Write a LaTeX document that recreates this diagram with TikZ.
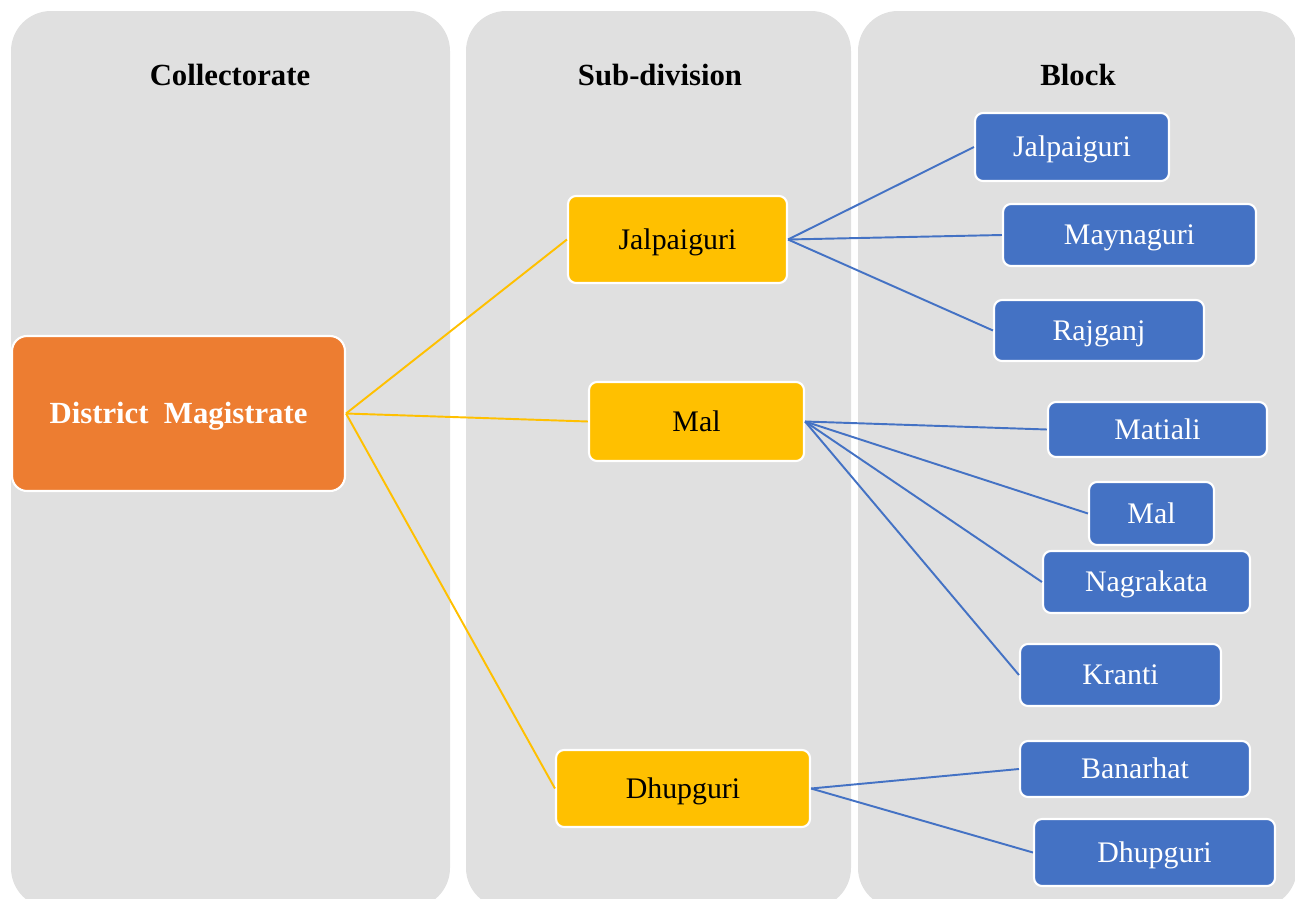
\documentclass[tikz,border=0pt]{standalone}
\usepackage{fontspec}
\setmainfont{Liberation Serif}
\definecolor{panelgray}{HTML}{E0E0E0}
\definecolor{dmorange}{HTML}{ED7D31}
\definecolor{subyellow}{HTML}{FFC000}
\definecolor{blockblue}{HTML}{4472C4}
\begin{document}
\begin{tikzpicture}[x=0.02cm,y=-0.02cm,
  box/.style={draw=white,line width=1.2pt,rounded corners=0.16cm,inner sep=0pt,text height=13pt,text depth=1.8pt,font=\fontsize{17}{20}\selectfont},
  sz/.style 2 args={minimum width=#1cm,minimum height=#2cm},
  dm/.style={box,fill=dmorange,text=white,rounded corners=0.3cm,font=\fontsize{17.5}{20}\selectfont\bfseries},
  sub/.style={box,fill=subyellow},
  blk/.style={box,fill=blockblue,text=white},
  head/.style={font=\fontsize{17.5}{20}\selectfont\bfseries},
  yline/.style={subyellow,line width=1.1pt},
  bline/.style={blockblue,line width=1.1pt}]
\useasboundingbox (0,0) rectangle (1295,899);
% three columns
\fill[panelgray,rounded corners=0.8cm] (11,11) rectangle (450,908);
\fill[panelgray,rounded corners=0.8cm] (466,11) rectangle (851,908);
\fill[panelgray,rounded corners=0.8cm] (858,11) rectangle (1297,908);
\node[head] (hcol) at (230,75) {Collectorate};
\node[head] (hsub) at (660,75) {Sub-division};
\node[head] (hblk) at (1078,75) {Block};

\node[dm,sz={6.66}{3.1}] (dm) at (178.5,413.5) {District \ Magistrate};

\node[sub,sz={4.38}{1.74}] (sj) at (677.5,239.5) {Jalpaiguri};
\node[sub,sz={4.3}{1.58}] (sm) at (696.5,421.5) {Mal};
\node[sub,sz={5.08}{1.54}] (sd) at (683,788.5) {Dhupguri};

\node[blk,sz={3.88}{1.36}] (bj) at (1072,147) {Jalpaiguri};
\node[blk,sz={5.06}{1.24}] (bmay) at (1129.5,235) {Maynaguri};
\node[blk,sz={4.2}{1.22}] (braj) at (1099,330.5) {Rajganj};
\node[blk,sz={4.38}{1.1}] (bmat) at (1157.5,429.5) {Matiali};
\node[blk,sz={2.5}{1.26}] (bmal) at (1151.5,513.5) {Mal};
\node[blk,sz={4.14}{1.24}] (bnag) at (1146.5,582) {Nagrakata};
\node[blk,sz={4.02}{1.24}] (bkra) at (1120.5,675) {Kranti};
\node[blk,sz={4.6}{1.12}] (bban) at (1135,769) {Banarhat};
\node[blk,sz={4.82}{1.34}] (bdh) at (1154.5,852.5) {Dhupguri};

\draw[yline] (dm.east) -- (sj.west);
\draw[yline] (dm.east) -- (sm.west);
\draw[yline] (dm.east) -- (sd.west);

\foreach \b in {bj,bmay,braj}
  \draw[bline] (sj.east) -- (\b.west);
\foreach \b in {bmat,bmal,bnag,bkra}
  \draw[bline] (sm.east) -- (\b.west);
\foreach \b in {bban,bdh}
  \draw[bline] (sd.east) -- (\b.west);
\end{tikzpicture}
\end{document}
